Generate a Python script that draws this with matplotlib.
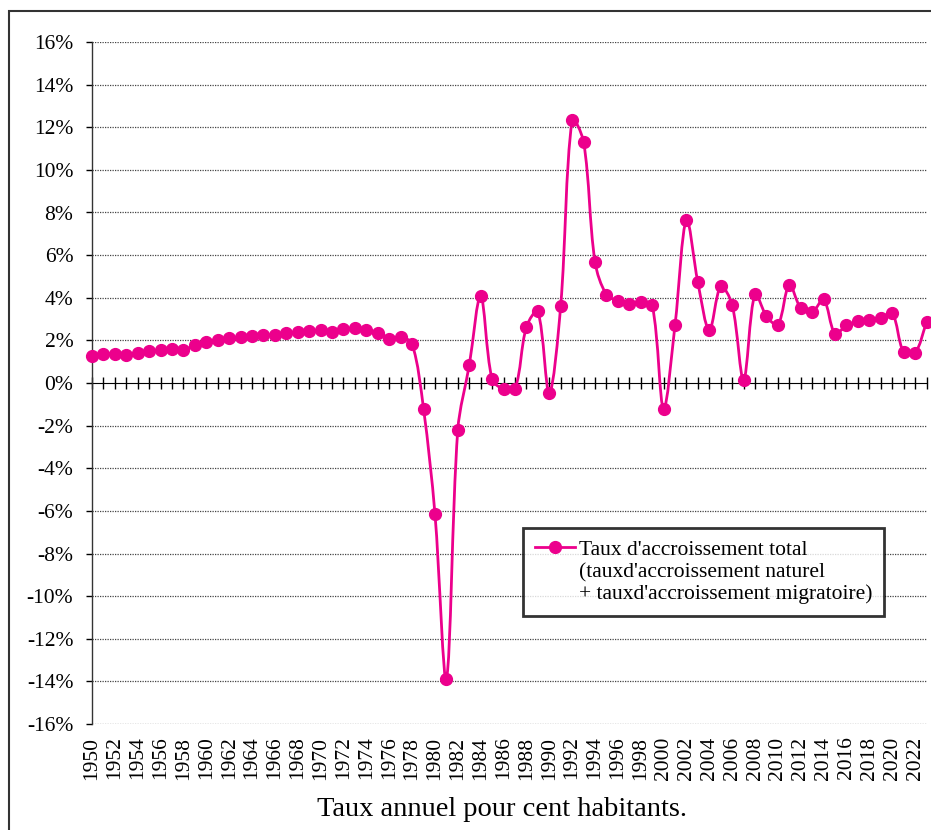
import matplotlib
matplotlib.use("Agg")
import matplotlib.pyplot as plt
import numpy as np
from matplotlib.path import Path
from matplotlib.patches import PathPatch, Rectangle
from matplotlib.lines import Line2D
from matplotlib.ticker import FuncFormatter, MultipleLocator, FixedLocator

plt.rcParams['font.family'] = ['Liberation Serif', 'DejaVu Serif']

years = list(range(1950, 2024))
rates = [1.27, 1.36, 1.37, 1.33, 1.39, 1.48, 1.56, 1.61, 1.53, 1.80,
         1.92, 2.03, 2.09, 2.14, 2.19, 2.27, 2.23, 2.34, 2.39, 2.44,
         2.47, 2.39, 2.52, 2.58, 2.48, 2.36, 2.08, 2.16, 1.84, -1.20,
         -6.14, -13.88, -2.19, 0.83, 4.08, 0.17, -0.28, -0.28, 2.63, 3.36,
         -0.48, 3.63, 12.34, 11.33, 5.69, 4.14, 3.86, 3.72, 3.80, 3.67,
         -1.20, 2.72, 7.66, 4.72, 2.47, 4.53, 3.67, 0.16, 4.19, 3.14,
         2.73, 4.61, 3.52, 3.33, 3.92, 2.31, 2.70, 2.89, 2.94, 3.05,
         3.28, 1.45, 1.41, 2.84]
legend_lines = ["Taux d'accroissement total",
                "(tauxd'accroissement naturel",
                "+ tauxd'accroissement migratoire)"]
caption = "Taux annuel pour cent habitants."
color = '#EC008C'

W, H = 931, 830
fig = plt.figure(figsize=(W / 100, H / 100), dpi=100)
ax = fig.add_axes([92 / W, 1 - 724 / H, (926.5 - 92) / W, (724 - 42) / H])
ax.set_xlim(1950, 2023)
ax.set_ylim(-16, 16)
fig.canvas.draw()

# smoothed line: chord-weighted Catmull-Rom bezier computed in display space
pts = ax.transData.transform(np.column_stack([years, rates]))
n = len(pts)
verts = [pts[0]]
codes = [Path.MOVETO]
def dist(a, b):
    return float(np.hypot(*(b - a)))
for i in range(n - 1):
    p1, p2 = pts[i], pts[i + 1]
    p0 = pts[i - 1] if i > 0 else p1
    p3 = pts[i + 2] if i + 2 < n else p2
    d01, d12, d23 = dist(p0, p1), dist(p1, p2), dist(p2, p3)
    t1 = p2 - p0
    t2 = p3 - p1
    f1 = d12 / (d01 + d12) / 3 if d01 + d12 > 0 else 0
    f2 = d12 / (d12 + d23) / 3 if d12 + d23 > 0 else 0
    c1 = p1 + t1 * f1
    c2 = p2 - t2 * f2
    verts += [c1, c2, p2]
    codes += [Path.CURVE4] * 3
verts_data = ax.transData.inverted().transform(np.array(verts))
ax.add_patch(PathPatch(Path(verts_data, codes), facecolor='none',
                       edgecolor=color, lw=2.0, zorder=4, clip_on=False))
ax.plot(years, rates, linestyle='none', marker='o', ms=8.5, color=color,
        zorder=5, clip_on=False)

# y axis
ax.yaxis.set_major_locator(MultipleLocator(2))
ax.yaxis.set_major_formatter(FuncFormatter(lambda v, p: f"{int(round(v))}%"))
ax.tick_params(axis='y', direction='out', length=4.5, width=1, pad=9,
               labelsize=15.5, colors='black')
for s in ['top', 'right', 'bottom']:
    ax.spines[s].set_visible(False)
ax.spines['left'].set_color('#333333')
ax.spines['left'].set_linewidth(1.0)

# gridlines
for v in range(-16, 17, 2):
    if v != 0:
        ax.axhline(v, color='#444444', lw=0.9, linestyle=(0, (1, 1)), zorder=1)

# bottom labels
ax.xaxis.set_major_locator(FixedLocator(years[::2]))
ax.set_xticklabels([str(v) for v in years[::2]], rotation=90)
ax.tick_params(axis='x', length=0, pad=9, labelsize=15.5)

# zero axis with year ticks
sec = ax.secondary_xaxis(0.5)
sec.xaxis.set_major_locator(FixedLocator(years))
sec.tick_params(axis='x', direction='inout', length=8, width=1,
                labelbottom=False, labeltop=False, colors='black')
sec.spines['bottom'].set_color('#222222')
sec.spines['bottom'].set_linewidth(1.0)

# legend: handle on the first line only
handle = Line2D([], [], color=color, lw=2.0, marker='o', ms=8.5)
blank = Line2D([], [], color='none', lw=0)
leg = ax.legend([handle, blank, blank], legend_lines, loc='upper left',
                bbox_to_anchor=((523 - 92) / 834.5, (724 - 528) / 682),
                borderaxespad=0, fontsize=15.5, frameon=True, fancybox=False,
                handlelength=1.85, handletextpad=0.2, borderpad=0.55,
                labelspacing=0.1)
leg.get_frame().set_edgecolor('black')
leg.get_frame().set_linewidth(2.0)
leg.set_zorder(6)

# caption
fig.text(502 / W, 1 - 809 / H, caption, ha='center', va='center', fontsize=20.5)

# outer border
fig.add_artist(Rectangle((9 / W, -0.1), 1.2, 1 - 11 / H + 0.1,
                         transform=fig.transFigure, fill=False,
                         edgecolor='#333333', lw=1.5))

fig.savefig('out.png', dpi=100)
